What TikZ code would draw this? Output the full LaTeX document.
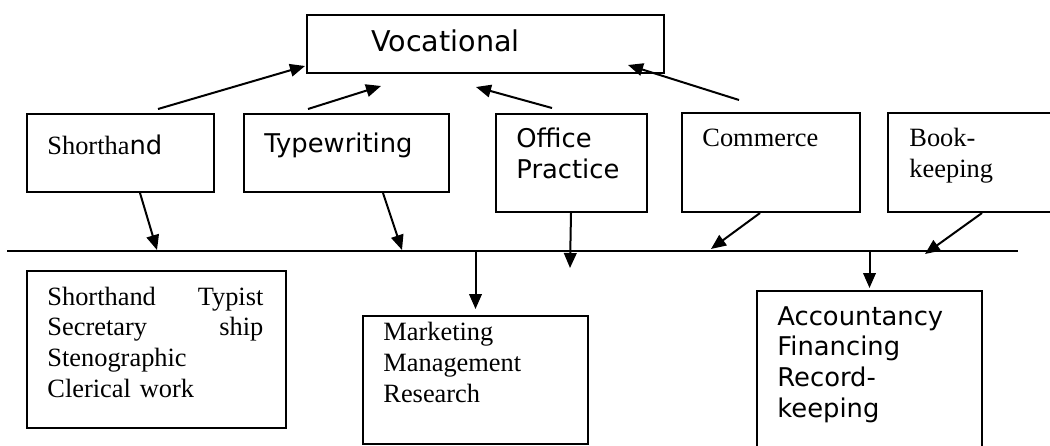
\documentclass[tikz,border=0pt]{standalone}
\usepackage{fontspec}
\setmainfont{Liberation Serif}
\newfontfamily\boxsansfamily{DejaVu Sans}
\usepackage{tikz}
\usetikzlibrary{
arrows.meta
}

\newcommand\rmsize{\fontsize{13.2pt}{15.4pt}\selectfont}
\newcommand\sfsize{\boxsansfamily\fontsize{12.9pt}{15.3pt}\selectfont}
\newcommand\vocsize{\boxsansfamily\fontsize{14.3pt}{16pt}\selectfont}

\begin{document}
\begin{tikzpicture}[
x=0.5pt,
y=-0.5pt,
box/.style={
draw,
line width=1pt,
anchor=north west,
inner sep=0pt
},
lbl/.style={anchor=base west,inner sep=0pt,align=left},
rm/.style={lbl,font=\rmsize},
sf/.style={lbl,font=\sfsize},
arrow/.style={-{Triangle[length=7.5pt,width=6.3pt]},line width=1pt}
]

\useasboundingbox (0,0) rectangle (1050,445);
\clip (0,0) rectangle (1050,445);

% top row
\node[box,minimum width=178.5pt,minimum height=29pt] (voc) at (306,14) {};
\node[box,minimum width=93.5pt,minimum height=39pt] (short) at (26,113) {};
\node[box,minimum width=102.5pt,minimum height=39pt] (type) at (243,113) {};
\node[box,minimum width=75.5pt,minimum height=49pt] (office) at (495,113) {};
\node[box,minimum width=89pt,minimum height=49.5pt] (comm) at (681,112) {};
\node[box,minimum width=86.5pt,minimum height=49.5pt] (book) at (887,112) {};

% bottom row
\node[box,minimum width=129.5pt,minimum height=78.5pt] (sty) at (26,270) {};
\node[box,minimum width=112.5pt,minimum height=64pt] (market) at (362,315) {};
\node[box,minimum width=112.5pt,minimum height=85pt] (acct) at (756,290) {};

% labels (several lines: placed on the last baseline)
\node[sf,font=\vocsize] (voc-txt) at (371,51) {Vocational};
\node[rm] (short-txt) at (47,154) {Shortha{\sfsize nd}};
\node[sf] (type-txt) at (264,152) {Typewriting};
\node[sf] (office-txt) at (516,178) {Office\\Practice};
\node[rm] (comm-txt) at (702,146) {Commerce};
\node[rm] (book-txt) at (909,177) {Book-\\keeping};
\node[rm,text width=108pt] (sty-txt) at (47,305)
{Shorthand\hspace{0pt plus 1fill}Typist\\Secretary\hspace{0pt plus 1fill}ship\\Stenographic\\Clerical work};
\node[rm] (market-txt) at (383,402) {Marketing\\Management\\Research};
\node[sf] (acct-txt) at (777,417) {Accountancy\\Financing\\Record-\\keeping};

% the common line
\coordinate (bus-w) at (7,251);
\coordinate (bus-e) at (1018,251);
\draw[line width=1pt] (bus-w) -- (bus-e);

\coordinate (in-short) at (157,250);
\coordinate (in-type) at (402,250);
\coordinate (in-office) at (570,268);
\coordinate (in-comm) at (711,249);
\coordinate (in-book) at (925,254);

% up to Vocational
\draw[arrow] ([shift={(37.5,-4)}]short.north) -- ([shift={(-1,-8)}]voc.south west);
\draw[arrow] ([shift={(-38.5,-4)}]type.north) -- ([shift={(-104.5,12)}]voc.south);
\draw[arrow] ([shift={(-19.5,-5)}]office.north) -- ([shift={(-9.5,13)}]voc.south);
\draw[arrow] ([shift={(-32,-12)}]comm.north) -- ([shift={(-37,-9)}]voc.south east);

% down to the line
\draw[arrow] ([xshift=9.75pt]short.south) -- (in-short);
\draw[arrow] ([xshift=18.25pt]type.south) -- (in-type);
\draw[arrow] ([xshift=-0.25pt]office.south) -- (in-office);
\draw[arrow] ([xshift=-5.5pt]comm.south) -- (in-comm);
\draw[arrow] ([xshift=3.75pt]book.south) -- (in-book);

% from the line
\draw[arrow] (market.north |- bus-w) -- ([yshift=3pt]market.north);
\draw[arrow] (acct.north |- bus-w) -- ([yshift=1pt]acct.north);

\end{tikzpicture}
\end{document}
